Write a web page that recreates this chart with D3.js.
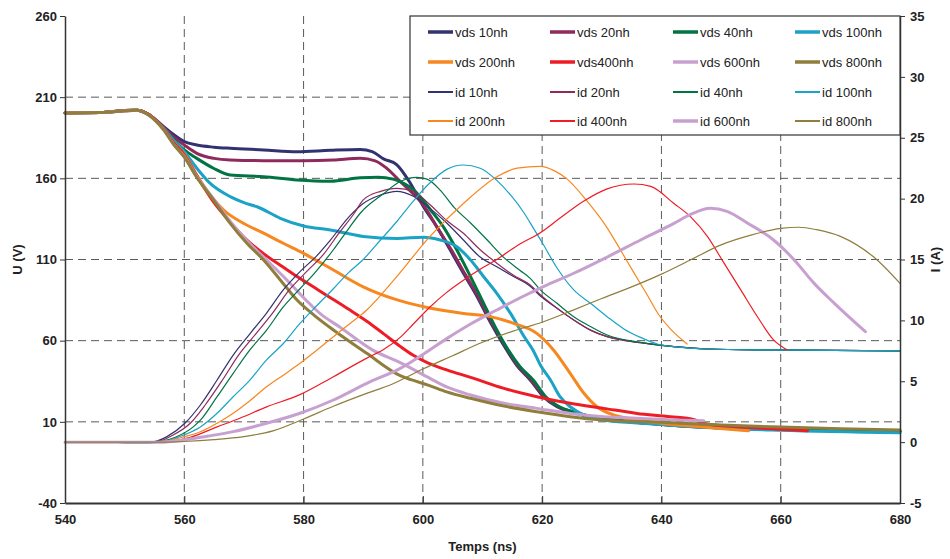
<!DOCTYPE html>
<html><head><meta charset="utf-8">
<script src="https://cdn.jsdelivr.net/npm/d3@7"></script>
<style>body{margin:0;background:#fff} svg{display:block} text{font-family:"Liberation Sans",Arial,Helvetica,sans-serif}</style>
</head><body><svg id="c" width="950" height="559"></svg>
<script>
// ---------- data ----------
const timeTicks = [540, 560, 580, 600, 620, 640, 660, 680];
const uTicks = [-40, 10, 60, 110, 160, 210, 260];
const iTicks = [-5, 0, 5, 10, 15, 20, 25, 30, 35];
const xTitle = "Temps (ns)";
const uTitle = "U (V)";
const iTitle = "I (A)";
const seriesColors = ["#323270", "#902a5c", "#007443", "#1ba3c6", "#f7871f", "#ee1c25", "#c8a0d0", "#8f7e3c"];
const vdsLabels = ["vds 10nh", "vds 20nh", "vds 40nh", "vds 100nh", "vds 200nh", "vds400nh", "vds 600nh", "vds 800nh"];
const idLabels = ["id 10nh", "id 20nh", "id 40nh", "id 100nh", "id 200nh", "id 400nh", "id 600nh", "id 800nh"];

// vds (V) : [time ns, U]
const vds10 = [[540,200.3],[546,200.5],[550,201.8],[552,202],[554,199.5],[556.5,192],[558.2,187],[560,182.6],[562.1,180.5],[565,179.2],[567.7,178.5],[573.3,177.5],[578.9,176.4],[584.5,177.3],[589.5,177.8],[591.5,176.5],[593.4,172],[595.6,168.5],[597.9,157],[600.1,142.5],[602.4,129.8],[604.6,115.8],[606.8,101.5],[609.1,87.1],[611.3,71.5],[613.5,57.5],[615.8,44.5],[618,35.8],[620.2,25.5],[622.5,19.3],[624.7,16.2],[628.1,13.2],[633.1,10.7],[639.3,8.7],[645,7.2],[660,5.3],[680,4]];
const vds20 = [[540,200.3],[546,200.5],[550,201.8],[552,202],[554,199.5],[556.5,191.5],[558.2,185.5],[560,180.5],[562.1,175.4],[565,172.3],[567.7,171.3],[573.3,170.9],[580,170.9],[585,171.3],[589.5,172.3],[592,170.8],[594,166],[596.5,157],[598.5,150],[600.1,143.5],[602.4,129.8],[604.8,115.8],[607,101.5],[609.3,87.1],[611.5,71.5],[613.7,57.5],[616,44.5],[618.2,35.8],[620.4,25.5],[622.7,19.3],[625,16.2],[628.1,13.2],[633.1,10.7],[639.3,8.7],[645,7.2],[660,5.3],[680,4]];
const vds40 = [[540,200.3],[546,200.5],[550,201.8],[552,202],[554,199.5],[556.5,191],[558.2,184],[560,177.5],[562.1,172.3],[564.9,166.2],[567.7,162],[573.3,161],[578.9,159],[584.5,158.2],[589.5,160.3],[592.5,160.6],[595,159.5],[597,156.5],[598.5,152.8],[601.3,140.5],[603.5,129.8],[605.7,115.8],[608,99.4],[610.2,83],[612.4,66.6],[614.3,54.3],[616.3,44],[618.5,35.8],[620.6,25.5],[622.9,19.3],[625.1,16.2],[628.3,13.2],[633.1,10.7],[639.3,8.7],[645,7.2],[660,5.5],[680,4.2]];
const vds100 = [[540,200.3],[546,200.5],[550,201.8],[552,202],[554,199.5],[556.5,191],[558.2,183.5],[560,176.4],[562.1,166.2],[564.3,157],[567.7,148.7],[570,145],[572.2,142.5],[576.1,135.4],[580,130.6],[584.5,128.2],[590,124.2],[595.7,123],[600.1,123.7],[602.9,122],[605.7,117.9],[608,109.7],[610.2,99.4],[612.4,89.2],[614.7,76.8],[617,62.4],[618.5,54],[619.7,45],[621.4,35.8],[623,25.5],[624.7,19.3],[627,14.2],[630.3,11.1],[636.7,9.1],[645,7],[660,4.8],[680,3.2]];
const vds200 = [[540,200.3],[546,200.5],[550,201.8],[552,202],[554,199.5],[556.5,190.5],[558.2,182],[560,175],[562.1,162],[564.3,150],[566.6,140.5],[569.9,132.3],[573.3,126.2],[576.6,120],[580,113.8],[584.5,104.6],[590,93.2],[595.7,85.1],[601.3,80],[606.8,76.8],[611.3,74.8],[615.2,70.7],[619.1,64.5],[621.9,54.3],[624.7,39.9],[627,27.6],[629.2,19.3],[632,14.2],[635.9,11.1],[641.5,8.5],[645,7.4],[654.6,4.5]];
const vds400 = [[540,200.3],[546,200.5],[550,201.8],[552,202],[554,199.5],[556.5,190.5],[558.2,182],[560,174.5],[562.1,161.5],[564.9,145.5],[567.7,133],[570.5,122],[573.3,113.5],[576.1,106.5],[578.9,99.5],[581.7,93],[584.5,86.5],[587.5,79.5],[590.6,72],[593.5,64],[596.2,56.5],[598.4,51],[601,46],[604,42],[608,37.4],[613.6,30.6],[619.1,25.5],[624.7,21.4],[630.3,18.3],[635.9,15.2],[641.5,13.2],[645.5,11.3],[647.5,8.6],[655,6.5],[664.5,4.5]];
const vds600 = [[540,200.3],[546,200.5],[550,201.5],[552,202],[554,199],[556.5,190],[558.2,181],[560,173.5],[562.1,161],[564.9,147.5],[567.7,133.5],[570.5,121.5],[573.3,111.5],[577.2,97.4],[580.4,85],[583,76],[586,68.6],[591.6,54.2],[596.2,46.5],[601.2,36.8],[604,31.5],[608,26.5],[613.6,21.4],[619.1,18.3],[624.7,15.2],[630.3,13.2],[635.9,12.2],[641,11.3],[647.1,10.7]];
const vds800 = [[540,200.3],[546,200.5],[550,201.5],[552,202],[554,199],[556.5,190],[558.2,181],[560,173],[562.1,160.5],[564.9,146.7],[567.7,132.3],[570.5,120],[573.3,109.7],[576.1,97.4],[578.9,85],[582,75],[585,66.6],[590.6,52.2],[596.2,38.5],[598,36],[601,32.5],[604,28.5],[608,24.5],[613.6,19.7],[619.1,16.2],[624.7,13.2],[630.3,11.1],[641.5,9.5],[650,8],[660,6.8],[670,5.8],[680,5]];

// id (A) : [time ns, I]
const id10 = [[540,0],[548,0],[552,-0.1],[554,-0.05],[555.5,0.1],[557.1,0.45],[560.1,1.55],[562.7,3.05],[565.5,5.1],[568.2,7.15],[571,8.9],[573.8,10.6],[576.6,12.5],[579.4,14],[582.2,15.3],[584.5,16.6],[587.8,18.6],[590,19.6],[592.9,20.3],[595.6,20.6],[598.4,20.2],[601.2,19.2],[604,18],[606.8,16.6],[609.6,15.2],[612.4,14.4],[615.2,13.6],[618,12.8],[619.7,12],[622.5,11],[625.3,10.03],[628.1,9.2],[630.9,8.66],[636.5,8.17],[642.1,7.84],[647.7,7.65],[658.8,7.57],[680,7.5]];
const id20 = [[540,0],[548,0],[552,-0.1],[554,-0.05],[556,0.1],[557.6,0.45],[561,1.55],[563.5,3.05],[566.4,5.1],[569.1,7.15],[572,8.9],[574.8,10.6],[577.6,12.5],[580.5,14],[583.3,15.4],[586,17.2],[588.5,18.8],[590,19.9],[592.9,20.6],[595.6,20.85],[598.4,20.6],[601.2,19.5],[604,18.2],[606.8,17.15],[609.6,15.8],[612.4,14.7],[615.2,13.7],[618,12.9],[619.7,12.1],[622.5,11],[625.3,10.03],[628.1,9.2],[630.9,8.66],[636.5,8.17],[642.1,7.84],[647.7,7.65],[658.8,7.57],[680,7.5]];
const id40 = [[540,0],[548,0],[552,-0.1],[554,-0.05],[556.5,0.1],[558.5,0.4],[561.5,1.25],[562.7,1.8],[565.5,3.73],[568.2,5.65],[571,7.57],[573.8,9.2],[576.6,11.1],[579.4,12.6],[581.7,13.8],[585,15.8],[587.5,17.5],[589.5,18.8],[593.4,20.4],[596.2,21.4],[599,21.75],[600.7,21.6],[602.9,20.7],[605.2,19.3],[608,18],[610.8,16.6],[613.5,15.2],[616.3,14.1],[618,13.45],[619.7,12.5],[622.5,11.4],[625.3,10.3],[628.1,9.5],[630.9,8.8],[636.5,8.2],[642.1,7.84],[647.7,7.65],[658.8,7.57],[680,7.5]];
const id100 = [[540,0],[548,0],[552,-0.1],[555,-0.05],[557.5,0.15],[560,0.6],[562.7,1.25],[565.5,2.37],[568.2,3.73],[571,5.1],[573.8,6.75],[576.6,8.1],[579.4,9.75],[582.2,11.2],[585,12.6],[587.5,13.9],[590,15],[592.9,16.6],[595.6,18.1],[598.4,19.8],[601.2,21.3],[604,22.4],[606.8,22.76],[609.6,22.5],[612.4,21.5],[614.7,20.3],[617,18.8],[618.5,17.6],[620,16.4],[622.5,14.3],[625.3,12.5],[628.1,11.4],[630.9,10.3],[633.7,9.3],[636.5,8.6],[639.3,8.06],[642.1,7.84],[647.7,7.65],[658.8,7.57],[680,7.5]];
const id200 = [[540,0],[550,0],[554,0],[557,0.1],[560,0.45],[562.7,0.85],[565.5,1.55],[568.2,2.37],[571,3.4],[573.8,4.55],[576.6,5.5],[579.4,6.47],[582.2,7.55],[585,8.66],[587.8,9.75],[590.6,10.85],[595.3,13.4],[601.2,16.9],[606.8,19.6],[612.4,21.8],[615.8,22.5],[619.7,22.65],[622,22.3],[624.2,21.6],[627.2,20],[630.9,17.6],[633,15.9],[635.4,13.9],[637.6,12.1],[639.5,10.5],[641.5,9.3],[644.3,8.06]];
const id400 = [[540,0],[550,0],[555,0],[558,0.1],[561,0.4],[565.5,1.25],[569.5,2],[573.8,2.9],[579.4,3.9],[585,5.37],[590.6,6.9],[593.4,7.6],[596.2,8.6],[598.4,9.7],[601.2,11.1],[604,12.3],[606.8,13.3],[609.6,14.2],[612.4,15],[616,16.2],[619.7,17.2],[623,18.4],[627,19.8],[630.9,20.8],[635.4,21.2],[638.2,21],[642.1,19.6],[644.9,18.5],[647.7,16.9],[650.5,14.7],[653.3,12.5],[656.1,10.3],[658.8,8.4],[661.1,7.57]];
const id600 = [[540,0],[550,0],[556,0],[560,0.2],[564,0.5],[568.2,0.86],[573.8,1.55],[579.4,2.37],[585,3.46],[590.6,4.83],[596.2,6.06],[600,7.2],[604,8.5],[608,9.7],[612.4,10.85],[616.5,11.9],[620.3,12.8],[625.3,13.87],[630.9,15.2],[636.5,16.6],[642.1,17.97],[644.9,18.7],[648.2,19.2],[651,18.95],[654.4,18],[658.8,16.6],[662.2,15],[665.6,13.04],[669,11.4],[674.2,9.07]];
const id800 = [[540,0],[550,0],[557,0],[560,0.05],[565,0.2],[570,0.45],[575,0.95],[580,1.9],[585,2.95],[590,3.9],[595,4.8],[600,6],[605,7.1],[610,8.2],[615,9.1],[620,9.85],[625,10.8],[630,11.8],[635,12.75],[640,13.8],[645,15],[650,16.2],[655,17],[660,17.55],[663,17.65],[666,17.45],[670,16.9],[675.6,15.2],[680,13.04]];

const vdsData = [vds10, vds20, vds40, vds100, vds200, vds400, vds600, vds800];
const idData = [id10, id20, id40, id100, id200, id400, id600, id800];
const idWide = [false, false, false, false, false, false, true, false];

// ---------- layout ----------
const L = 65, R = 900, T = 16, B = 503;
const svg = d3.select("#c");
const x = d3.scaleLinear().domain([540, 680]).range([L, R]);
const yU = d3.scaleLinear().domain([-40, 260]).range([B, T]);
const yI = d3.scaleLinear().domain([-5, 35]).range([B, T]);
const fmt = d => String(d);

// grid
const grid = svg.append("g").attr("stroke", "#5a5a5a").attr("stroke-width", 1).attr("stroke-dasharray", "8,5");
timeTicks.slice(1, -1).forEach(t => grid.append("line").attr("x1", x(t)).attr("x2", x(t)).attr("y1", T).attr("y2", B));
uTicks.slice(1, -1).forEach(u => grid.append("line").attr("x1", L).attr("x2", R).attr("y1", yU(u)).attr("y2", yU(u)));

// lines
const lineU = d3.line().x(d => x(d[0])).y(d => yU(d[1])).curve(d3.curveMonotoneX);
const lineI = d3.line().x(d => x(d[0])).y(d => yI(d[1])).curve(d3.curveMonotoneX);
const plot = svg.append("g").attr("fill", "none").attr("stroke-linejoin", "round").attr("stroke-linecap", "round");
vdsData.forEach((d, i) => plot.append("path").attr("d", lineU(d)).attr("stroke", seriesColors[i]).attr("stroke-width", 3));
idData.forEach((d, i) => plot.append("path").attr("d", lineI(d)).attr("stroke", seriesColors[i]).attr("stroke-width", idWide[i] ? 3 : 1.2));

// axes
const fontAxis = g => g.selectAll("text").attr("font-size", 13).attr("font-weight", "bold").attr("fill", "#222")
  .attr("font-family", '"Liberation Sans", Arial, sans-serif');
const axL = svg.append("g").attr("transform", `translate(${L},0)`)
  .call(d3.axisLeft(yU).tickValues(uTicks).tickFormat(fmt).tickSizeInner(5).tickSizeOuter(0).tickPadding(3));
const axR = svg.append("g").attr("transform", `translate(${R},0)`)
  .call(d3.axisRight(yI).tickValues(iTicks).tickFormat(fmt).tickSizeInner(5).tickSizeOuter(0).tickPadding(5));
const axB = svg.append("g").attr("transform", `translate(0,${B})`)
  .call(d3.axisBottom(x).tickValues(timeTicks).tickFormat(fmt).tickSizeInner(-7).tickSizeOuter(0).tickPadding(12));
[axL, axR, axB].forEach(a => { a.call(fontAxis); a.selectAll(".tick line").attr("stroke", "#333"); a.select(".domain").attr("stroke", "#333").attr("stroke-width", 1.5); });
axB.select(".domain").attr("stroke-width", 2);
axB.selectAll(".tick").filter(d => d === 540 || d === 680).select("line").remove();

// titles
svg.append("text").attr("x", (L + R) / 2).attr("y", 551).attr("text-anchor", "middle")
  .attr("font-size", 13).attr("font-weight", "bold").attr("fill", "#222").text(xTitle);
svg.append("text").attr("transform", `translate(22,${(T + B) / 2}) rotate(-90)`).attr("text-anchor", "middle")
  .attr("font-size", 13).attr("font-weight", "bold").attr("fill", "#222").text(uTitle);
svg.append("text").attr("transform", `translate(940,${(T + B) / 2}) rotate(-90)`).attr("text-anchor", "middle")
  .attr("font-size", 13).attr("font-weight", "bold").attr("fill", "#222").text(iTitle);

// legend
const lg = svg.append("g");
lg.append("rect").attr("x", 410).attr("y", T).attr("width", R - 410).attr("height", 119)
  .attr("fill", "#fff").attr("stroke", "#333").attr("stroke-width", 1.2);
const colX = [428, 550, 673, 795];
const rowY = [32, 62, 92, 121];
const entries = [];
vdsLabels.forEach((l, i) => entries.push({ label: l, color: seriesColors[i], w: 3.5 }));
idLabels.forEach((l, i) => entries.push({ label: l, color: seriesColors[i], w: idWide[i] ? 3.5 : 2 }));
entries.forEach((e, k) => {
  const cx = colX[k % 4], cy = rowY[Math.floor(k / 4)];
  lg.append("line").attr("x1", cx).attr("x2", cx + 25).attr("y1", cy).attr("y2", cy)
    .attr("stroke", e.color).attr("stroke-width", e.w);
  lg.append("text").attr("x", cx + 27).attr("y", cy).attr("dy", "0.36em")
    .attr("font-size", 13).attr("fill", "#222").text(e.label);
});
</script></body></html>
